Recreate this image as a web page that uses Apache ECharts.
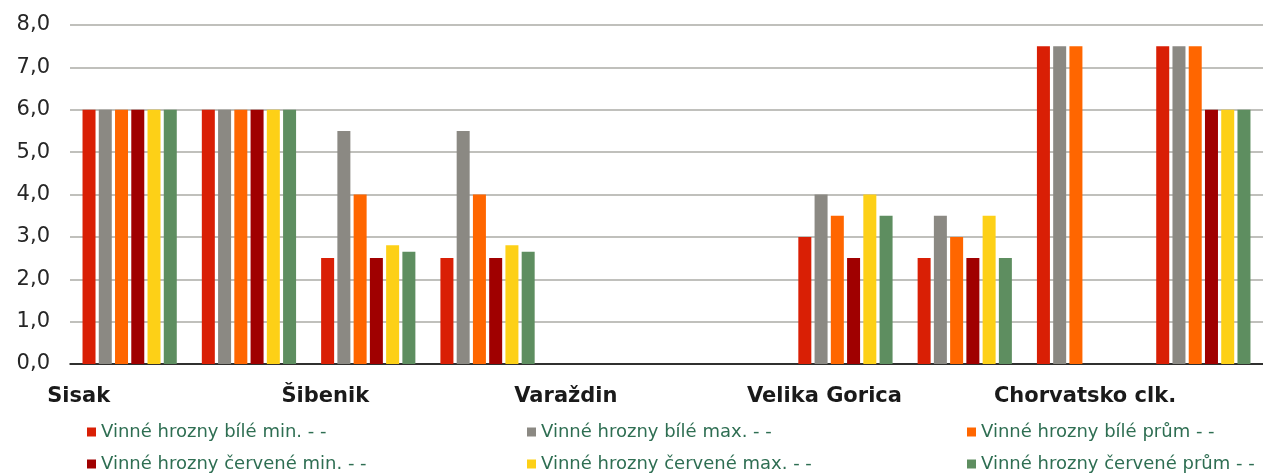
<!DOCTYPE html>
<html>
<head>
<meta charset="utf-8">
<script src="https://cdn.jsdelivr.net/npm/echarts@6/dist/echarts.min.js"></script>
<style>
  html, body { margin: 0; padding: 0; background: #fff; }
  #chart { width: 1263px; height: 473px; }
</style>
</head>
<body>
<div id="chart"></div>
<script>
let categories = ["Sisak", "", "Šibenik", "", "Varaždin", "", "Velika Gorica", "", "Chorvatsko clk.", ""];
let seriesNames = [
  "Vinné hrozny bílé min. - -",
  "Vinné hrozny bílé max. - -",
  "Vinné hrozny bílé prům - -",
  "Vinné hrozny červené min. - -",
  "Vinné hrozny červené max. - -",
  "Vinné hrozny červené prům - -"
];
let whiteMin = [6, 6, 2.5, 2.5, null, null, 3.0, 2.5, 7.5, 7.5];
let whiteMax = [6, 6, 5.5, 5.5, null, null, 4.0, 3.5, 7.5, 7.5];
let whiteAvg = [6, 6, 4.0, 4.0, null, null, 3.5, 3.0, 7.5, 7.5];
let redMin = [6, 6, 2.5, 2.5, null, null, 2.5, 2.5, null, 6];
let redMax = [6, 6, 2.8, 2.8, null, null, 4.0, 3.5, null, 6];
let redAvg = [6, 6, 2.65, 2.65, null, null, 3.5, 2.5, null, 6];
let yTicks = [0, 1, 2, 3, 4, 5, 6, 7, 8];

let colors = ["#D91F05", "#8B8983", "#FF6600", "#A00000", "#FDD017", "#5E8E60"];
let allValues = [whiteMin, whiteMax, whiteAvg, redMin, redMax, redAvg];

// label nudges to mimic the original layout (px, negative = left)
let labelShift = { "Sisak": -51, "Šibenik": -43, "Varaždin": -41, "Velika Gorica": -21, "Chorvatsko clk.": 1 };

let myChart = echarts.init(document.getElementById("chart"), null, { renderer: "canvas" });

let rich = {};
Object.keys(labelShift).forEach(function (name, i) {
  let d = labelShift[name];
  rich["c" + i] = {
    fontFamily: "DejaVu Sans",
    fontWeight: "bold",
    fontSize: 21,
    color: "#1a1a1a",
    padding: d < 0 ? [0, -2 * d, 0, 0] : [0, 0, 0, 2 * d]
  };
});

// one legend per item so the 3x2 grid lines up like the original
let legendLeft = [87, 527, 967];
let legendTop = [423, 455];
let legends = seriesNames.map(function (name, i) {
  return {
    left: legendLeft[i % 3],
    top: legendTop[Math.floor(i / 3)],
    padding: 0,
    itemWidth: 9,
    itemHeight: 9,
    itemGap: 0,
    icon: "rect",
    textStyle: { fontFamily: "DejaVu Sans", fontSize: 18, color: "#2E6E52", padding: [0, 0, 0, 0] },
    data: [name]
  };
});

let option = {
  animation: false,
  color: colors,
  grid: { left: 70, right: -7, top: 25, bottom: 109 },
  legend: legends,
  xAxis: {
    type: "category",
    data: categories,
    axisLine: { lineStyle: { color: "#000", width: 1.5 } },
    axisTick: { show: false },
    axisLabel: {
      interval: 0,
      margin: 22,
      formatter: function (v) {
        if (!v) return "";
        let i = Object.keys(labelShift).indexOf(v);
        return "{c" + i + "|" + v + "}";
      },
      rich: rich
    }
  },
  yAxis: {
    type: "value",
    min: yTicks[0],
    max: yTicks[yTicks.length - 1],
    interval: 1,
    axisLine: { show: false },
    axisTick: { show: false },
    splitLine: { lineStyle: { color: "#C0C0BC", width: 2 } },
    axisLabel: {
      margin: 20,
      fontFamily: "DejaVu Sans",
      fontSize: 21,
      color: "#262626",
      formatter: function (v) { return v.toFixed(1).replace(".", ","); }
    }
  },
  series: allValues.map(function (vals, i) {
    return {
      name: seriesNames[i],
      type: "bar",
      data: vals,
      barWidth: 13,
      barGap: "25%",
      itemStyle: { color: colors[i] }
    };
  })
};

myChart.setOption(option);
</script>
</body>
</html>
